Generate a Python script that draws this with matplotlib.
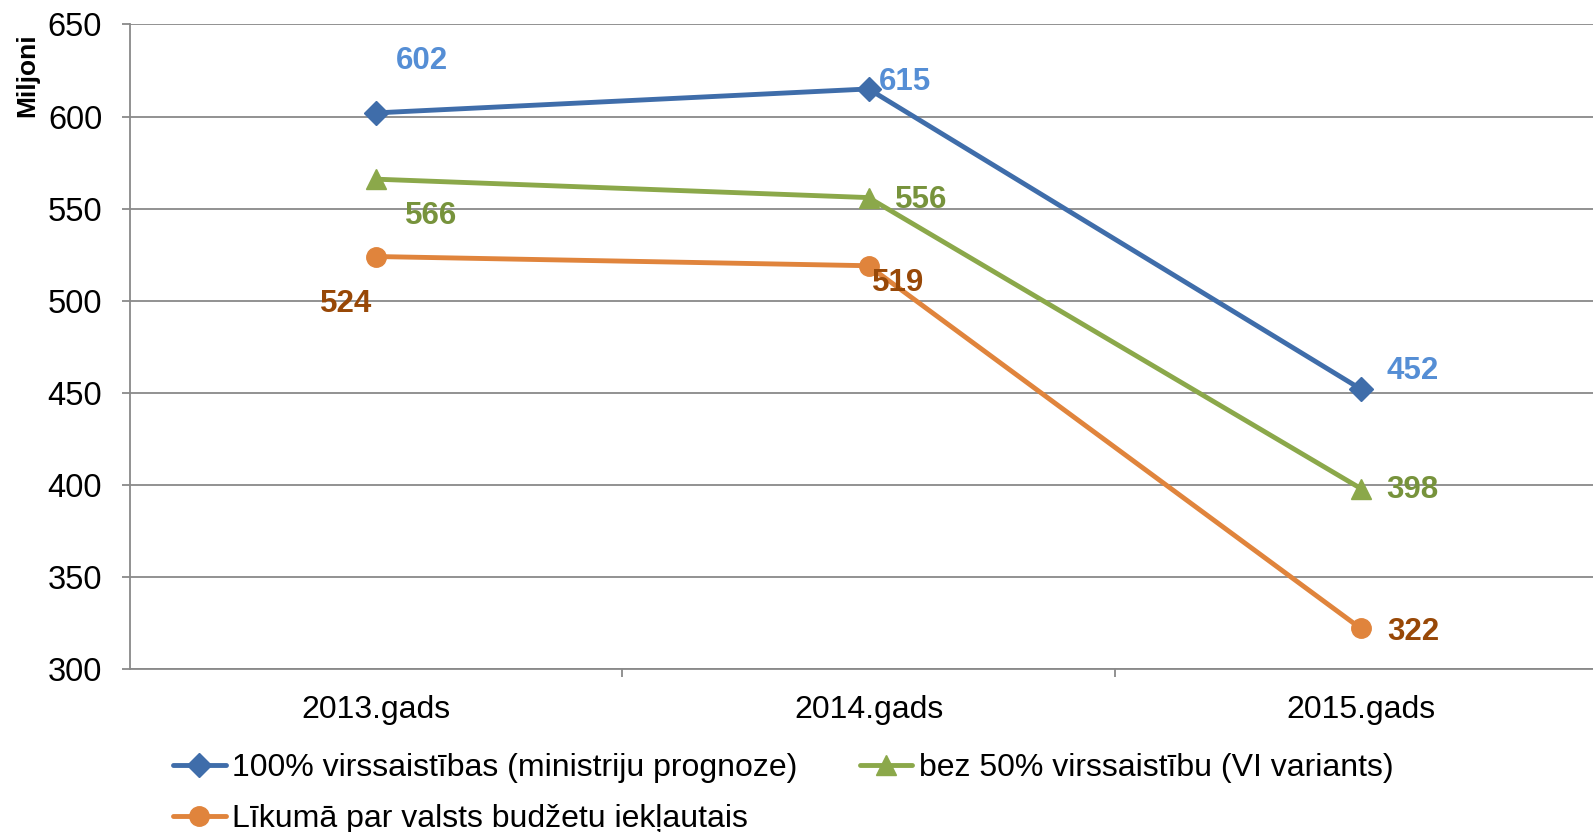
import matplotlib
matplotlib.use("Agg")
import matplotlib.pyplot as plt
from matplotlib.ticker import MultipleLocator, FixedLocator

plt.rcParams['font.family'] = ['Liberation Sans', 'DejaVu Sans']

categories = ["2013.gads", "2014.gads", "2015.gads"]
series_names = ["100% virssaistības (ministriju prognoze)",
                "bez 50% virssaistību (VI variants)",
                "Līkumā par valsts budžetu iekļautais"]
vals_100 = [602, 615, 452]
vals_bez50 = [566, 556, 398]
vals_likums = [524, 519, 322]

line_colors = ["#3F6DAA", "#8BA84A", "#E0843C"]
label_colors = ["#558ED5", "#77933C", "#984807"]
markers = ["D", "^", "o"]
msizes = [12, 15, 14]

# label offsets in pixels (dx right, dy down)
offsets = [
    [(46, -52), (36, -7), (52, -18)],
    [(55, 37), (53, 2), (52, 1)],
    [(-30, 47), (30, 17), (52, 4)],
]

W, H = 1593, 832
fig = plt.figure(figsize=(W / 100, H / 100), dpi=100)
left, right, top, bottom = 130, 1607, 24.5, 669
ax = fig.add_axes([left / W, 1 - bottom / H, (right - left) / W, (bottom - top) / H])

x = list(range(len(categories)))
grid_c = "#898989"
handles = []
for vals, lc, tc, mk, ms, offs, name in zip(
        [vals_100, vals_bez50, vals_likums], line_colors, label_colors,
        markers, msizes, offsets, series_names):
    h, = ax.plot(x, vals, color=lc, lw=3.5, marker=mk, markersize=ms,
                 markerfacecolor=lc, markeredgecolor=lc, zorder=3, label=name,
                 solid_capstyle='round')
    handles.append(h)
    for xi, v, (dx, dy) in zip(x, vals, offs):
        ax.annotate(str(v), (xi, v), xytext=(dx * 0.72, -dy * 0.72),
                    textcoords='offset points', ha='center', va='center',
                    fontsize=22.5, fontweight='bold', color=tc, zorder=4)

ax.set_xlim(-0.5, 2.5)
ax.set_ylim(300, 650)
ax.yaxis.set_major_locator(MultipleLocator(50))
ax.grid(axis='y', color=grid_c, lw=1.3, zorder=0)
ax.set_axisbelow(True)

ax.set_xticks(x)
ax.set_xticklabels(categories)
ax.xaxis.set_minor_locator(FixedLocator([0.5, 1.5]))
ax.tick_params(axis='x', which='major', length=0, pad=19, labelsize=23)
ax.tick_params(axis='x', which='minor', length=6, width=1.3, color=grid_c, direction='out')
ax.tick_params(axis='y', length=6, width=1.3, color=grid_c, pad=14, labelsize=23.5)

for s in ['top', 'right']:
    ax.spines[s].set_visible(False)
for s in ['left', 'bottom']:
    ax.spines[s].set_color(grid_c)
    ax.spines[s].set_linewidth(1.3)

fig.text(27 / W, 1 - 75 / H, "Miljoni", rotation=90, ha='center', va='center',
         fontsize=19, fontweight='bold')

leg = fig.legend([handles[0], handles[2], handles[1]],
                 [series_names[0], series_names[2], series_names[1]],
                 ncol=2, loc='upper left', bbox_to_anchor=(173 / W, 1 - 753 / H),
                 frameon=False, fontsize=23, handlelength=1.65, handletextpad=0.2,
                 columnspacing=1.95, labelspacing=0.65, borderpad=0, borderaxespad=0)

fig.savefig("out.png", dpi=100)
